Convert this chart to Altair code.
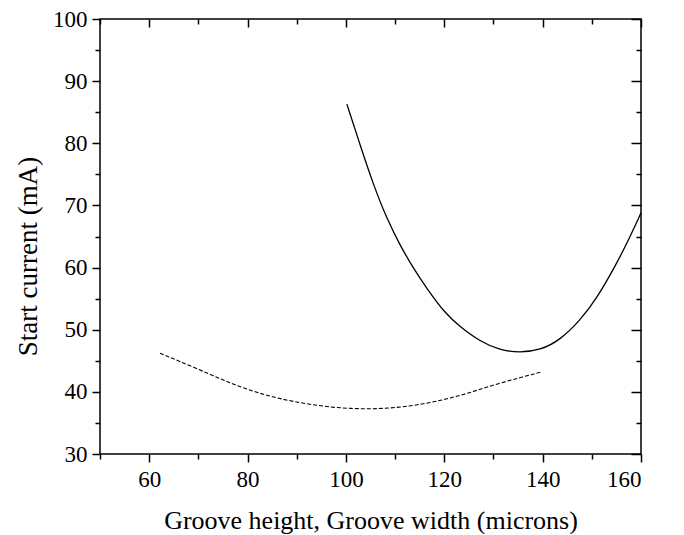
import altair as alt
import pandas as pd

solid_x = [100.2, 102.9, 105.6, 108.3, 111.0, 113.7, 116.4, 120.2, 123.2, 127.3, 131.3,
           135.4, 139.5, 143.5, 147.6, 151.0, 155.1, 157.8, 160.0]
solid_y = [86.3, 79.7, 73.3, 67.9, 63.6, 59.9, 56.7, 52.6, 50.5, 48.1, 46.7,
           46.3, 46.7, 48.3, 51.5, 55.0, 60.7, 65.0, 68.8]

dashed_x = [62.2, 69.6, 76.4, 83.2, 90.0, 96.8, 103.5, 110.3, 117.1, 123.9, 130.6, 139.8]
dashed_y = [46.2, 43.8, 41.4, 39.5, 38.3, 37.5, 37.2, 37.4, 38.2, 39.5, 41.3, 43.2]

x_major = [60, 80, 100, 120, 140, 160]
x_minor = [50, 70, 90, 110, 130, 150]
y_major = [30, 40, 50, 60, 70, 80, 90, 100]
y_minor = [35, 45, 55, 65, 75, 85, 95]

solid = pd.DataFrame({"x": solid_x, "y": solid_y})
dashed = pd.DataFrame({"x": dashed_x, "y": dashed_y})

FONT = "Liberation Serif"
xs = alt.Scale(domain=[50, 160], nice=False, zero=False)
ys = alt.Scale(domain=[30, 100], nice=False, zero=False)

common_axis = dict(domain=False, grid=False, tickColor="black", tickWidth=1.5,
                   labelFont=FONT, titleFont=FONT, labelColor="black", titleColor="black")


def noaxis_props(orient, values, size, offset=0):
    return alt.Axis(orient=orient, values=values, tickSize=size, labels=False, title=None,
                    offset=offset, **common_axis)


main = alt.Chart(solid).mark_line(color="black", strokeWidth=1.3, interpolate="basis").encode(
    x=alt.X("x:Q", scale=xs, axis=alt.Axis(
        orient="bottom", values=x_major, tickSize=8, labelFontSize=23, labelPadding=6,
        title="Groove height, Groove width (microns)", titleFontSize=26, titleFontWeight="normal",
        titlePadding=16, **common_axis)),
    y=alt.Y("y:Q", scale=ys, axis=alt.Axis(
        orient="left", values=y_major, tickSize=8, labelFontSize=23, labelPadding=5,
        title="Start current (mA)", titleFontSize=27, titleFontWeight="normal",
        titleX=-64, titleY=237, titleBaseline="alphabetic", titleAlign="center",
        **common_axis)),
)

dash = alt.Chart(dashed).mark_line(color="black", strokeWidth=1.1, strokeDash=[4, 2],
                                   interpolate="basis").encode(
    x=alt.X("x:Q", scale=xs, axis=noaxis_props("bottom", x_minor, 5)),
    y=alt.Y("y:Q", scale=ys, axis=noaxis_props("left", y_minor, 5)),
)

top_major = alt.Chart(solid).mark_line(strokeOpacity=0).encode(
    x=alt.X("x:Q", scale=xs, axis=noaxis_props("top", x_major, 8, -8)),
    y=alt.Y("y:Q", scale=ys, axis=noaxis_props("right", y_major, 10, -10)),
)

top_minor = alt.Chart(solid).mark_line(strokeOpacity=0).encode(
    x=alt.X("x:Q", scale=xs, axis=noaxis_props("top", x_minor, 5, -5)),
    y=alt.Y("y:Q", scale=ys, axis=noaxis_props("right", y_minor, 5, -5)),
)

chart = alt.layer(main, dash, top_major, top_minor).resolve_axis(
    x="independent", y="independent"
).properties(
    width=541, height=435,
    autosize=alt.AutoSizeParams(type="none"),
    padding={"left": 92, "top": 11, "right": 35, "bottom": 80},
    background="white",
).configure_view(stroke="black", strokeWidth=1.5)

chart.save("out.html", embed_options={"renderer": "svg", "actions": False})
